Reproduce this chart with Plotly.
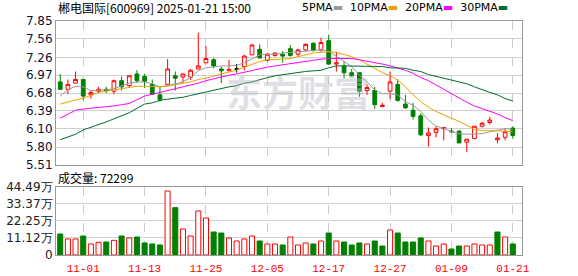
import plotly.graph_objects as go

dates = ["10-29","10-30","10-31","11-01","11-04","11-05","11-06","11-07","11-08","11-11",
         "11-12","11-13","11-14","11-15","11-18","11-19","11-20","11-21","11-22","11-25",
         "11-26","11-27","11-28","11-29","12-02","12-03","12-04","12-05","12-06","12-09",
         "12-10","12-11","12-12","12-13","12-16","12-17","12-18","12-19","12-20","12-23",
         "12-24","12-25","12-26","12-27","12-30","12-31","01-02","01-03","01-06","01-07",
         "01-08","01-09","01-10","01-13","01-14","01-15","01-16","01-17","01-20","01-21"]

opens = [6.86,6.74,6.84,6.90,6.65,6.71,6.74,6.71,6.88,6.80,
         6.99,6.95,6.82,6.65,6.82,6.96,6.94,6.94,7.07,7.17,
         7.22,7.07,7.04,7.07,7.11,7.30,7.39,7.21,7.29,7.31,
         7.40,7.31,7.38,7.49,7.38,7.53,7.15,7.12,7.01,7.01,
         6.72,6.72,6.46,6.71,6.82,6.50,6.40,6.31,5.99,6.04,
         6.10,6.06,6.06,5.88,5.94,6.14,6.20,5.92,5.96,6.11]
highs = [6.99,6.90,7.03,6.90,6.72,6.78,6.78,6.90,6.95,6.96,
         7.05,6.99,6.90,6.78,7.23,7.03,6.99,7.07,7.66,7.44,
         7.25,7.11,7.22,7.15,7.30,7.48,7.47,7.33,7.34,7.36,
         7.46,7.40,7.49,7.50,7.58,7.63,7.35,7.19,7.07,7.01,
         6.82,6.78,6.52,7.03,6.90,6.65,6.52,6.35,6.12,6.14,
         6.13,6.11,6.08,5.93,6.14,6.21,6.29,6.03,6.11,6.14]
lows = [6.73,6.66,6.84,6.57,6.59,6.68,6.68,6.66,6.72,6.76,
        6.84,6.76,6.65,6.54,6.82,6.72,6.84,6.89,7.07,7.17,
        7.08,6.84,7.04,7.01,7.05,7.30,7.24,7.19,7.27,7.17,
        7.27,7.27,7.35,7.35,7.35,7.14,7.03,6.92,6.94,6.62,
        6.65,6.42,6.45,6.58,6.54,6.42,6.25,5.98,5.81,5.96,
        5.91,6.04,5.86,5.72,5.93,6.12,6.17,5.86,5.91,5.94]
closes = [6.74,6.82,6.90,6.63,6.69,6.74,6.72,6.88,6.78,6.96,
          6.88,6.87,6.66,6.57,7.07,6.92,6.99,7.05,7.12,7.24,
          7.12,7.04,7.06,7.07,7.28,7.46,7.25,7.31,7.33,7.28,
          7.29,7.38,7.47,7.37,7.50,7.15,7.17,7.01,6.96,6.71,
          6.77,6.49,6.48,6.86,6.56,6.44,6.30,6.00,6.03,6.10,
          6.12,6.05,5.87,5.93,6.14,6.19,6.24,5.95,6.05,5.99]

ma5 = [6.63,6.73,6.79,6.78,6.72,6.72,6.73,6.75,6.79,6.84,
       6.86,6.86,6.83,6.78,6.80,6.83,6.86,6.93,7.04,7.09,
       7.11,7.12,7.12,7.13,7.17,7.24,7.30,7.31,7.31,7.33,
       7.34,7.35,7.36,7.37,7.38,7.36,7.28,7.19,7.11,6.97,
       6.86,6.73,6.67,6.67,6.65,6.54,6.48,6.38,6.24,6.14,
       6.11,6.05,6.02,6.01,6.01,6.02,6.05,6.08,6.10,6.09]
ma10 = [6.50,6.53,6.57,6.60,6.64,6.69,6.71,6.73,6.76,6.78,
        6.79,6.79,6.78,6.78,6.79,6.82,6.84,6.86,6.90,6.92,
        6.96,6.99,7.02,7.05,7.10,7.15,7.19,7.22,7.22,7.23,
        7.24,7.27,7.30,7.33,7.34,7.35,7.34,7.31,7.27,7.22,
        7.15,7.08,7.01,6.96,6.89,6.78,6.65,6.54,6.45,6.38,
        6.32,6.27,6.22,6.16,6.09,6.07,6.07,6.06,6.06,6.05]
ma20 = [6.27,6.33,6.40,6.42,6.43,6.44,6.45,6.47,6.49,6.51,
        6.57,6.63,6.66,6.69,6.72,6.75,6.78,6.80,6.84,6.88,
        6.91,6.95,6.97,6.99,7.02,7.04,7.07,7.10,7.12,7.14,
        7.15,7.17,7.19,7.22,7.23,7.24,7.24,7.24,7.24,7.22,
        7.20,7.17,7.15,7.12,7.09,7.05,7.00,6.93,6.88,6.81,
        6.74,6.66,6.59,6.53,6.47,6.43,6.38,6.34,6.28,6.23]
ma30 = [5.92,5.96,6.01,6.08,6.12,6.17,6.21,6.26,6.31,6.36,
        6.43,6.50,6.52,6.56,6.58,6.59,6.61,6.64,6.67,6.70,
        6.72,6.76,6.78,6.80,6.84,6.86,6.90,6.93,6.96,6.98,
        7.00,7.02,7.03,7.04,7.05,7.09,7.12,7.12,7.12,7.12,
        7.12,7.11,7.11,7.09,7.09,7.08,7.05,7.03,6.98,6.95,
        6.92,6.89,6.86,6.83,6.78,6.73,6.69,6.65,6.59,6.55]

# volume in 万 (10k) units
volumes = [13.74,10.47,10.47,12.43,7.20,8.29,8.51,9.60,12.43,11.12,
           11.78,7.85,7.20,6.54,41.88,30.97,17.01,12.43,28.79,24.21,
           15.05,14.39,11.12,9.16,10.47,12.43,9.16,7.20,7.20,6.54,
           11.78,6.54,7.85,7.20,9.16,14.39,9.16,8.51,6.54,7.85,
           7.20,9.16,5.89,16.36,14.39,8.51,8.51,11.12,9.16,5.89,
           7.20,3.93,5.89,5.89,7.20,6.54,6.54,15.05,11.78,7.23]

price_ticks = [5.51,5.80,6.10,6.39,6.68,6.97,7.26,7.56,7.85]
vol_ticks = [0,11.12,22.25,33.37,44.49]
date_ticks = ["11-01","11-13","11-25","12-05","12-17","12-27","01-09","01-21"]

stock_title = "郴电国际[600969] 2025-01-21 15:00"
last_volume = "72299"

RED = "#ff0000"
GREEN = "#008000"

fig = go.Figure()

# normal candles
idx_n = [i for i in range(len(dates)) if opens[i] != closes[i]]
idx_d = [i for i in range(len(dates)) if opens[i] == closes[i]]
fig.add_trace(go.Candlestick(
    x=[dates[i] for i in idx_n], open=[opens[i] for i in idx_n],
    high=[highs[i] for i in idx_n], low=[lows[i] for i in idx_n],
    close=[closes[i] for i in idx_n],
    increasing=dict(line=dict(color=RED, width=1), fillcolor="white"),
    decreasing=dict(line=dict(color=GREEN, width=1), fillcolor=GREEN),
    whiskerwidth=0, showlegend=False, xaxis="x", yaxis="y", hoverinfo="skip"))
if idx_d:
    fig.add_trace(go.Candlestick(
        x=[dates[i] for i in idx_d], open=[opens[i] for i in idx_d],
        high=[highs[i] for i in idx_d], low=[lows[i] for i in idx_d],
        close=[closes[i] for i in idx_d],
        increasing=dict(line=dict(color="black", width=1), fillcolor="black"),
        decreasing=dict(line=dict(color="black", width=1), fillcolor="black"),
        whiskerwidth=0, showlegend=False, xaxis="x", yaxis="y", hoverinfo="skip"))

ma_colors = {"5PMA": "#9a9a9a", "10PMA": "#f0a000", "20PMA": "#ff00ff", "30PMA": "#006b30"}
for name, vals in [("5PMA", ma5), ("10PMA", ma10), ("20PMA", ma20), ("30PMA", ma30)]:
    fig.add_trace(go.Scatter(x=dates, y=vals, mode="lines",
                             line=dict(color=ma_colors[name], width=1),
                             showlegend=False, xaxis="x", yaxis="y", hoverinfo="skip"))

# volume bars
up = []
for i in range(len(dates)):
    prev = closes[i - 1] if i > 0 else opens[i]
    up.append(closes[i] >= prev)
fig.add_trace(go.Bar(
    x=dates, y=volumes,
    marker=dict(color=["white" if u else GREEN for u in up],
                line=dict(color=[RED if u else GREEN for u in up], width=1)),
    width=0.66, showlegend=False, xaxis="x2", yaxis="y2", hoverinfo="skip"))

axis_font = dict(family="DejaVu Sans", size=12, color="#101030")
common_x = dict(type="category", categoryorder="array", categoryarray=dates,
                range=[-0.55, len(dates) + 0.2], tickvals=date_ticks,
                showgrid=True, gridcolor="#cccccc", griddash="dash", gridwidth=1,
                showline=True, linecolor="#999999", linewidth=1, mirror=True,
                ticks="", zeroline=False, automargin=False)

fig.update_layout(
    width=578, height=276,
    margin=dict(l=56, r=56, t=21, b=21),
    paper_bgcolor="white", plot_bgcolor="white",
    xaxis=dict(**common_x, domain=[0, 1], anchor="y", showticklabels=False),
    xaxis2=dict(**common_x, domain=[0, 1], anchor="y2", showticklabels=True,
                ticklabelstandoff=3,
                tickfont=dict(family="Liberation Mono", size=11, color=RED)),
    yaxis=dict(domain=[0.3846, 1], range=[price_ticks[0], price_ticks[-1]],
               tickvals=price_ticks, ticktext=[f"{v:.2f}" for v in price_ticks],
               showgrid=True, gridcolor="#d0d0d0", gridwidth=1,
               showline=True, linecolor="#999999", mirror=True, ticks="",
               zeroline=False, tickfont=axis_font, automargin=False),
    yaxis2=dict(domain=[0, 0.2906], range=[0, vol_ticks[-1]],
                tickvals=vol_ticks,
                ticktext=["0"] + [f"{v:.2f}万" for v in vol_ticks[1:]],
                showgrid=True, gridcolor="#d0d0d0", gridwidth=1,
                showline=True, linecolor="#999999", mirror=True, ticks="",
                zeroline=False, automargin=False,
                tickfont=dict(family="DejaVu Sans", size=12, color="#202020")),
    barmode="overlay",
)

fig.update_xaxes(rangeslider_visible=False)

ann = []
ann.append(dict(text=stock_title, x=0, y=1.058, xref="paper", yref="paper",
                xanchor="left", yanchor="middle", showarrow=False,
                font=dict(family="Noto Sans CJK SC", size=12, color="#000000")))
leg_parts = []
for name in ["5PMA", "10PMA", "20PMA", "30PMA"]:
    leg_parts.append(f"{name}<span style='color:{ma_colors[name]}'>▬</span>")
ann.append(dict(text="  ".join(leg_parts), x=0.975, y=1.058, xref="paper", yref="paper",
                xanchor="right", yanchor="middle", showarrow=False,
                font=dict(family="DejaVu Sans", size=11, color="#000000")))
ann.append(dict(text=f"成交量: {last_volume}", x=0.0, y=0.333, xref="paper", yref="paper",
                xanchor="left", yanchor="middle", showarrow=False,
                font=dict(family="Noto Sans CJK SC", size=12, color="#000000")))
ann.append(dict(text="<b>东方财富</b>", x=0.52, y=0.70, xref="paper", yref="paper",
                xanchor="center", yanchor="middle", showarrow=False,
                font=dict(family="Noto Sans CJK SC", size=36, color="rgba(185,185,195,0.45)")))
fig.update_layout(annotations=ann)

fig.write_html("out.html")
